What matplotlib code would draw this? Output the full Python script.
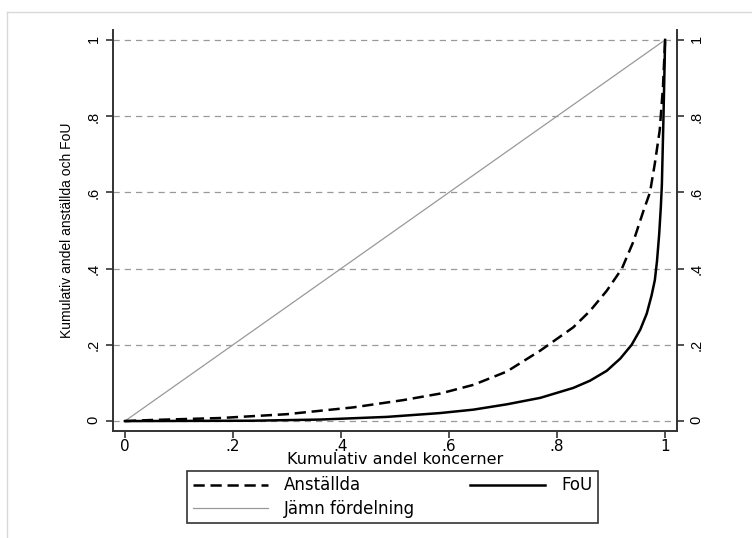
import numpy as np
import matplotlib.pyplot as plt
from matplotlib.lines import Line2D

plt.rcParams['font.family'] = ['DejaVu Sans']

# Lorenz-type curves
anst_x = [0, 0.052, 0.176, 0.299, 0.423, 0.515, 0.583, 0.645, 0.707, 0.769, 0.830, 0.861,
          0.892, 0.920, 0.941, 0.960, 0.972, 0.981, 0.990, 0.996, 1.0]
anst_y = [0, 0.003, 0.008, 0.018, 0.036, 0.055, 0.072, 0.095, 0.130, 0.185, 0.246, 0.289,
          0.342, 0.400, 0.470, 0.552, 0.600, 0.676, 0.763, 0.876, 1.0]

fou_x = [0, 0.237, 0.361, 0.485, 0.583, 0.645, 0.707, 0.769, 0.830, 0.861, 0.892, 0.917,
         0.938, 0.954, 0.966, 0.975, 0.981, 0.985, 0.989, 0.992, 0.994, 0.997, 1.0]
fou_y = [0, 0.001, 0.004, 0.011, 0.021, 0.030, 0.044, 0.061, 0.087, 0.106, 0.132, 0.164,
         0.200, 0.240, 0.282, 0.330, 0.370, 0.420, 0.490, 0.560, 0.620, 0.800, 1.0]

even_x = [0, 1]
even_y = [0, 1]

ticks = [0, 0.2, 0.4, 0.6, 0.8, 1.0]
tick_labels = ['0', '.2', '.4', '.6', '.8', '1']

fig = plt.figure(figsize=(7.52, 5.38), dpi=100)
ax = fig.add_axes([113 / 752, 1 - 431 / 538, 564 / 752, 401 / 538])

spine_col = '#333333'
l_even, = ax.plot(even_x, even_y, color='#999999', lw=0.9, label='Jämn fördelning')
l_anst, = ax.plot(anst_x, anst_y, color='black', lw=1.8, dashes=(4.5, 2.3), label='Anställda')
l_fou, = ax.plot(fou_x, fou_y, color='black', lw=1.8, label='FoU')

ax.set_xlim(-0.022, 1.022)
ax.set_ylim(-0.026, 1.026)
ax.set_xticks(ticks, tick_labels)
ax.set_yticks(ticks, tick_labels)

ax.yaxis.grid(True, color='#999999', lw=0.9, linestyle=(0, (5, 4)))
ax.set_axisbelow(True)

ax.spines['top'].set_visible(False)
for s in ['left', 'right', 'bottom']:
    ax.spines[s].set_color(spine_col)
    ax.spines[s].set_linewidth(1.4)

ax.tick_params(axis='both', direction='out', length=5, width=1.2, color=spine_col,
               labelcolor='black')
ax.tick_params(axis='x', labelsize=11, pad=0.5)
ax.tick_params(axis='y', right=True, labelright=True, labelrotation=90, pad=4)
for lab in ax.get_yticklabels() + [t.label2 for t in ax.yaxis.get_major_ticks()]:
    lab.set_fontfamily('Liberation Sans')
    lab.set_fontsize(10.5)

ax.set_xlabel('Kumulativ andel koncerner', fontsize=11.5, labelpad=-1)
ax.set_ylabel('Kumulativ andel anställda och FoU', fontsize=10, labelpad=9,
              fontfamily='Liberation Sans')

leg = fig.legend([l_anst, l_even, l_fou], ['Anställda', 'Jämn fördelning', 'FoU'],
                 loc='center', ncol=2, mode='expand', borderaxespad=0,
                 bbox_to_anchor=(187 / 752, 1 - 521 / 538, 411 / 752, 48 / 538),
                 fontsize=12, frameon=True, fancybox=False, edgecolor='black',
                 handlelength=4.5, handletextpad=0.95, borderpad=0.35, labelspacing=0.3)
leg.get_frame().set_linewidth(1.2)

# light outer border of the graph region
fig.add_artist(Line2D([7 / 752, 1], [1 - 12 / 538, 1 - 12 / 538], color='#d9d9d9', lw=1))
fig.add_artist(Line2D([7 / 752, 7 / 752], [0, 1 - 12 / 538], color='#d9d9d9', lw=1))

fig.savefig('out.png', dpi=100)
